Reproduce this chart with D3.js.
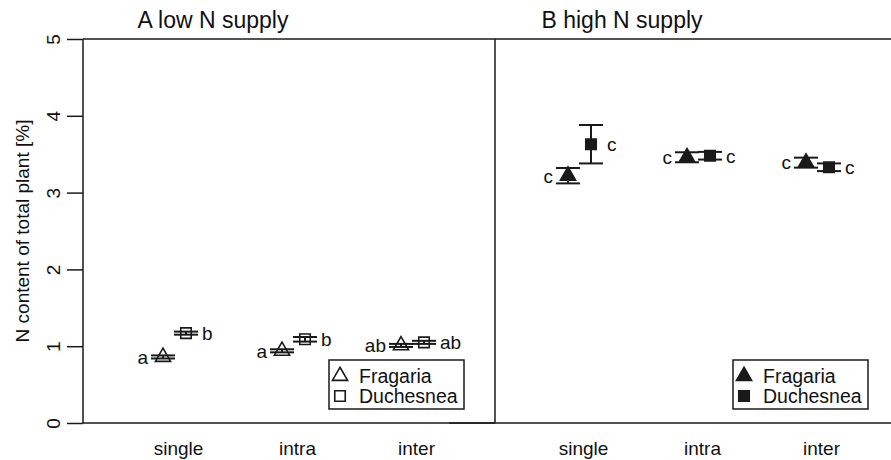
<!DOCTYPE html>
<html>
<head>
<meta charset="utf-8">
<script src="https://cdn.jsdelivr.net/npm/d3@7"></script>
<style>
  body { margin: 0; background: #fff; }
  text { font-family: "Liberation Sans", Arial, sans-serif; fill: #111; }
</style>
</head>
<body>
<svg id="chart"></svg>
<script>
// data
const categories = ["single", "intra", "inter"];
const species = ["Fragaria", "Duchesnea"];
const yTicks = [0, 1, 2, 3, 4, 5];

const lowFragaria = [0.86, 0.94, 1.01];
const lowFragariaErr = [0.02, 0.02, 0.02];
const lowDuchesnea = [1.17, 1.09, 1.05];
const lowDuchesneaErr = [0.02, 0.03, 0.02];
const highFragaria = [3.22, 3.46, 3.39];
const highFragariaErr = [0.10, 0.065, 0.065];
const highDuchesnea = [3.63, 3.48, 3.33];
const highDuchesneaErr = [0.25, 0.05, 0.05];

const lowFragariaLetters = ["a", "a", "ab"];
const lowDuchesneaLetters = ["b", "b", "ab"];
const highFragariaLetters = ["c", "c", "c"];
const highDuchesneaLetters = ["c", "c", "c"];

let width = 891, height = 460;
let top0 = 39, bottom0 = 423, left0 = 83;
let ink = "#1a1a1a";

let svg = d3.select("#chart").attr("width", width).attr("height", height);

let y = d3.scaleLinear().domain([0, 5]).range([bottom0, top0]);

// frame
let frame = svg.append("g").attr("stroke", ink).attr("stroke-width", 1.5).attr("fill", "none");
frame.append("line").attr("x1", left0).attr("x2", left0).attr("y1", top0).attr("y2", bottom0);
frame.append("line").attr("x1", left0).attr("x2", width).attr("y1", top0).attr("y2", top0);
frame.append("line").attr("x1", left0).attr("x2", 495).attr("y1", bottom0).attr("y2", bottom0);
frame.append("line").attr("x1", 449).attr("x2", width).attr("y1", bottom0).attr("y2", bottom0);
frame.append("line").attr("x1", 495).attr("x2", 495).attr("y1", top0).attr("y2", bottom0);

// y axis
let yAxis = svg.append("g")
  .attr("transform", `translate(${left0},0)`)
  .call(d3.axisLeft(y).tickValues(yTicks).tickSize(16).tickFormat(d3.format("d")));
yAxis.select(".domain").remove();
yAxis.selectAll(".tick line").attr("stroke", ink).attr("stroke-width", 1.5);
yAxis.selectAll(".tick text")
  .attr("x", 0).attr("dy", 0)
  .attr("font-size", "19px")
  .attr("text-anchor", "middle")
  .attr("transform", "translate(-23,0) rotate(-90)")
  .attr("fill", ink);

svg.append("text")
  .attr("transform", `translate(29,${(top0 + bottom0) / 2}) rotate(-90)`)
  .attr("text-anchor", "middle")
  .attr("font-size", "19px")
  .text("N content of total plant [%]");

// triangle and square symbols
let triPath = d3.symbol().type(d3.symbolTriangle).size(100);
let sqPath = d3.symbol().type(d3.symbolSquare).size(110);

function panel(title, titleX, range, fr, frErr, du, duErr, frLet, duLet, filled, legendX) {
  let x = d3.scalePoint().domain(categories).range(range);
  let g = svg.append("g");

  g.append("text")
    .attr("x", titleX).attr("y", 28)
    .attr("text-anchor", "middle")
    .attr("font-size", "23px")
    .text(title);

  let xAxis = g.append("g")
    .attr("transform", `translate(0,${bottom0})`)
    .call(d3.axisBottom(x).tickSize(0).tickPadding(19));
  xAxis.select(".domain").remove();
  xAxis.selectAll(".tick text").attr("font-size", "19px").attr("fill", ink);

  let sets = [
    {vals: fr, err: frErr, lets: frLet, dx: -15, sym: triPath, anchor: "end", lx: -15},
    {vals: du, err: duErr, lets: duLet, dx: 8, sym: sqPath, anchor: "start", lx: 16}
  ];

  sets.forEach(s => {
    let pts = categories.map((c, i) => ({c: c, v: s.vals[i], e: s.err[i], l: s.lets[i]}));
    let grp = g.append("g");

    // error bars
    let eb = grp.selectAll(".eb").data(pts).enter().append("g")
      .attr("stroke", ink).attr("stroke-width", 2);
    eb.append("line")
      .attr("x1", d => x(d.c) + s.dx).attr("x2", d => x(d.c) + s.dx)
      .attr("y1", d => y(d.v - d.e)).attr("y2", d => y(d.v + d.e));
    eb.append("line")
      .attr("x1", d => x(d.c) + s.dx - 12).attr("x2", d => x(d.c) + s.dx + 12)
      .attr("y1", d => y(d.v + d.e)).attr("y2", d => y(d.v + d.e));
    eb.append("line")
      .attr("x1", d => x(d.c) + s.dx - 12).attr("x2", d => x(d.c) + s.dx + 12)
      .attr("y1", d => y(d.v - d.e)).attr("y2", d => y(d.v - d.e));

    grp.selectAll(".pt").data(pts).enter().append("path")
      .attr("d", s.sym)
      .attr("transform", d => `translate(${x(d.c) + s.dx},${y(d.v)})`)
      .attr("fill", filled ? ink : "white")
      .attr("fill-opacity", filled ? 1 : 0)
      .attr("stroke", ink)
      .attr("stroke-width", 1.6);

    grp.selectAll(".lab").data(pts).enter().append("text")
      .attr("x", d => x(d.c) + s.dx + s.lx)
      .attr("y", d => y(d.v))
      .attr("dy", "0.36em")
      .attr("text-anchor", s.anchor)
      .attr("font-size", "19px")
      .text(d => d.l);
  });

  // legend
  let lg = g.append("g").attr("transform", `translate(${legendX},360)`);
  lg.append("rect").attr("width", 135).attr("height", 49)
    .attr("fill", "white").attr("stroke", ink).attr("stroke-width", 1.5);
  let items = lg.selectAll(".li").data(species).enter().append("g")
    .attr("transform", (d, i) => `translate(0,${16 + i * 20})`);
  items.append("path")
    .attr("d", (d, i) => i == 0 ? triPath() : sqPath())
    .attr("transform", "translate(11,0)")
    .attr("fill", filled ? ink : "white")
    .attr("stroke", ink).attr("stroke-width", 1.6);
  items.append("text")
    .attr("x", 30).attr("dy", "0.36em")
    .attr("font-size", "19.5px")
    .text(d => d);
}

panel("A low N supply", 213, [178, 416],
  lowFragaria, lowFragariaErr, lowDuchesnea, lowDuchesneaErr,
  lowFragariaLetters, lowDuchesneaLetters, false, 329);

panel("B high N supply", 622, [583, 821],
  highFragaria, highFragariaErr, highDuchesnea, highDuchesneaErr,
  highFragariaLetters, highDuchesneaLetters, true, 733);
</script>
</body>
</html>
